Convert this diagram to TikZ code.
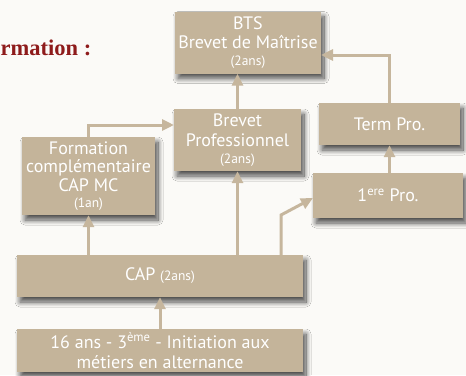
\documentclass[tikz,border=0pt]{standalone}
\usepackage{fontspec}
\setmainfont{PT Sans}
\newfontfamily\titlefont{Liberation Serif}
\usetikzlibrary{arrows.meta,shadows.blur,calc}
\definecolor{boxtan}{HTML}{C4B49A}
\definecolor{arrtan}{HTML}{C6B69D}
\definecolor{bgcol}{HTML}{FBFAF7}
\definecolor{titlered}{HTML}{8E1B1B}
\newcommand{\smtxt}[1]{{\fontsize{13.5}{14}\selectfont #1}}
\begin{document}
\begin{tikzpicture}[x=1pt,y=-1pt,
  box/.style={fill=boxtan, draw=none, inner sep=0pt, align=center, text=white,
    font=\fontsize{18}{20}\selectfont,
    blur shadow={shadow xshift=3pt, shadow yshift=-5pt, shadow blur radius=5pt, shadow blur steps=12, shadow opacity=70}},
  arr/.style={draw=arrtan, line width=3pt, -{Triangle[width=11pt,length=12pt]}}
]
\useasboundingbox[fill=bgcol] (0,0) rectangle (466,375);
\node[anchor=west, inner sep=0pt, text=titlered, font=\titlefont\bfseries\fontsize{22.5}{26}\selectfont] (title) at (0.5,48) {rmation :};

\node[box, minimum width=146pt, minimum height=62pt] (bts) at (248,42.5)
  {BTS\\[-1pt] Brevet de Maîtrise\\[-3pt] \smtxt{(2ans)}};
\node[box, minimum width=127pt, minimum height=62pt] (bp) at (237.5,140)
  {Brevet\\[0pt] Professionnel\\[-3pt] \smtxt{(2ans)}};
\node[box, minimum width=141pt, minimum height=42pt] (tp) at (389.5,124) {Term Pro.};
\node[box, minimum width=150pt, minimum height=45pt] (p1) at (388,195.5)
  {1\textsuperscript{ere} Pro.};
\node[box, minimum width=133pt, minimum height=78pt] (fc) at (88.5,176)
  {Formation\\[-2pt] complémentaire\\[-1pt] CAP MC\\[-4pt] \smtxt{(1an)}};
\node[box, minimum width=286pt, minimum height=42pt] (cap) at (160,276)
  {CAP \smtxt{(2ans)}};
\node[box, minimum width=286pt, minimum height=43pt] (init) at (160,350.5)
  {16 ans - 3\textsuperscript{ème} - Initiation aux\\[0pt] métiers en alternance};

\coordinate (fcbp) at (174,125);
\coordinate (tpbts) at (321,55);
\coordinate (capbend) at (281,215);
\coordinate (p1in) at (313,198);

\draw[arr] (init.north) -- (cap.south);
\draw[arr] (fc.south |- cap.north) -- (fc.south);
\draw[arr] (bp.south |- cap.north) -- (bp.south);
\draw[arr] (capbend |- cap.north) -- (capbend) -- (p1in);
\draw[arr] (fc.north) |- (fcbp);
\draw[arr] (bp.north) -- (bp.north |- bts.south);
\draw[arr] (tp.north) |- (tpbts);
\draw[arr] (tp.south |- p1.north) -- (tp.south);
\end{tikzpicture}
\end{document}
